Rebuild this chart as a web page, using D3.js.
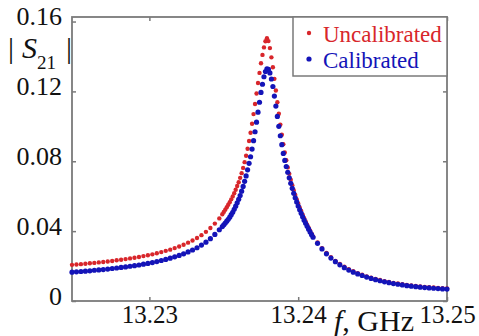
<!DOCTYPE html>
<html>
<head>
<meta charset="utf-8">
<script src="https://cdn.jsdelivr.net/npm/d3@7"></script>
<style>
  body { margin: 0; background: #fff; }
  svg { display: block; }
</style>
</head>
<body>
<div class="chart"></div>
<script>
// resonance curve, |S21| vs frequency
var width = 479;
var height = 336;

var freqs = [
  13.2248, 13.2251, 13.2254, 13.2257, 13.2260, 13.2263, 13.2266, 13.2269, 13.2272, 13.2275,
  13.2278, 13.2281, 13.2284, 13.2287, 13.2290, 13.2293, 13.2296, 13.2299, 13.2302, 13.2305,
  13.2308, 13.2311, 13.2314, 13.2317, 13.2320, 13.2323, 13.2326, 13.2329, 13.2332, 13.2335,
  13.2338, 13.2341, 13.2344, 13.2347,
  13.2349, 13.2350, 13.2351, 13.2352, 13.2353, 13.2354, 13.2355, 13.2356, 13.2357, 13.2358,
  13.2359, 13.2360, 13.2361, 13.2362, 13.2363, 13.2364, 13.2365, 13.2366, 13.2367, 13.2368,
  13.2369, 13.2370, 13.2371, 13.2372, 13.2373, 13.2374, 13.2375, 13.2376, 13.2377, 13.2378,
  13.2379, 13.2380, 13.2381, 13.2382, 13.2383, 13.2384, 13.2385, 13.2386, 13.2387, 13.2388,
  13.2389, 13.2390, 13.2391, 13.2392, 13.2393, 13.2394, 13.2395, 13.2396, 13.2397, 13.2398,
  13.2399, 13.2400, 13.2401, 13.2402, 13.2403, 13.2404, 13.2405, 13.2406, 13.2407, 13.2408,
  13.2409, 13.2410,
  13.2413, 13.2416, 13.2419, 13.2422, 13.2425, 13.2428, 13.2431, 13.2434, 13.2437, 13.2440,
  13.2443, 13.2446, 13.2449, 13.2452, 13.2455, 13.2458, 13.2461, 13.2464, 13.2467, 13.2470,
  13.2473, 13.2476, 13.2479, 13.2482, 13.2485, 13.2488, 13.2491, 13.2494, 13.2497, 13.2500
];

var uncalibrated = [
  0.0207, 0.0209, 0.0211, 0.0213, 0.0216, 0.0218, 0.0221, 0.0223, 0.0226, 0.0229,
  0.0233, 0.0236, 0.0240, 0.0244, 0.0248, 0.0252, 0.0257, 0.0262, 0.0267, 0.0273,
  0.0280, 0.0287, 0.0294, 0.0303, 0.0312, 0.0322, 0.0334, 0.0346, 0.0361, 0.0377,
  0.0396, 0.0418, 0.0443, 0.0473,
  0.0497, 0.0510, 0.0523, 0.0537, 0.0551, 0.0566, 0.0582, 0.0599, 0.0617, 0.0637,
  0.0658, 0.0680, 0.0705, 0.0732, 0.0762, 0.0795, 0.0832, 0.0872, 0.0916, 0.0963,
  0.1015, 0.1070, 0.1128, 0.1188, 0.1248, 0.1306, 0.1361, 0.1409, 0.1452, 0.1487,
  0.1505, 0.1488, 0.1448, 0.1395, 0.1338, 0.1272, 0.1205, 0.1138, 0.1072, 0.1010,
  0.0952, 0.0898, 0.0850, 0.0806, 0.0765, 0.0728, 0.0694, 0.0663, 0.0634, 0.0607,
  0.0582, 0.0558, 0.0536, 0.0515, 0.0494, 0.0474, 0.0455, 0.0437, 0.0419, 0.0402,
  0.0386, 0.0370,
  0.0335, 0.0303, 0.0275, 0.0251, 0.0230, 0.0212, 0.0196, 0.0182, 0.0170, 0.0159,
  0.0150, 0.0141, 0.0133, 0.0126, 0.0120, 0.0114, 0.0109, 0.0104, 0.0100, 0.0096,
  0.0092, 0.0089, 0.0086, 0.0083, 0.0081, 0.0079, 0.0077, 0.0075, 0.0073, 0.0072
];

var calibrated = [
  0.0165, 0.0167, 0.0169, 0.0171, 0.0173, 0.0176, 0.0178, 0.0180, 0.0183, 0.0186,
  0.0189, 0.0192, 0.0195, 0.0199, 0.0202, 0.0206, 0.0211, 0.0215, 0.0220, 0.0226,
  0.0232, 0.0238, 0.0245, 0.0253, 0.0261, 0.0270, 0.0281, 0.0292, 0.0305, 0.0320,
  0.0337, 0.0357, 0.0381, 0.0408,
  0.0426, 0.0436, 0.0446, 0.0457, 0.0468, 0.0480, 0.0494, 0.0508, 0.0525, 0.0543,
  0.0562, 0.0582, 0.0604, 0.0629, 0.0656, 0.0685, 0.0716, 0.0751, 0.0788, 0.0826,
  0.0870, 0.0918, 0.0969, 0.1024, 0.1081, 0.1138, 0.1194, 0.1241, 0.1284, 0.1314,
  0.1329, 0.1326, 0.1306, 0.1271, 0.1228, 0.1173, 0.1116, 0.1057, 0.1000, 0.0946,
  0.0895, 0.0845, 0.0805, 0.0770, 0.0737, 0.0705, 0.0674, 0.0645, 0.0617, 0.0591,
  0.0567, 0.0544, 0.0522, 0.0502, 0.0482, 0.0463, 0.0445, 0.0428, 0.0411, 0.0395,
  0.0380, 0.0365,
  0.0330, 0.0298, 0.0270, 0.0246, 0.0225, 0.0207, 0.0191, 0.0177, 0.0165, 0.0155,
  0.0146, 0.0137, 0.0129, 0.0122, 0.0116, 0.0110, 0.0105, 0.0100, 0.0096, 0.0092,
  0.0088, 0.0085, 0.0082, 0.0079, 0.0077, 0.0075, 0.0073, 0.0071, 0.0069, 0.0068
];

var xTicks = [13.23, 13.24, 13.25];
var yTicks = [0, 0.04, 0.08, 0.12, 0.16];
var seriesNames = ['Uncalibrated', 'Calibrated'];

var red = '#d8262b';
var blue = '#1414b8';
var frameColor = '#7a7a7a';
var ink = '#111';
var serif = '"Liberation Serif", "Times New Roman", "DejaVu Serif", serif';

var plot = {left: 72, right: 447, top: 17, bottom: 301};

var x = d3.scaleLinear().domain([13.2248, 13.25]).range([plot.left, plot.right]);
var y = d3.scaleLinear().domain([0, 0.1626]).range([plot.bottom, plot.top]);

var svg = d3.select('.chart').append('svg')
  .attr('width', width)
  .attr('height', height)
  .attr('font-family', serif)
  .style('font-family', serif);

// ticks on all four sides, pointing inwards
function styleAxis(g) {
  g.attr('font-family', serif);
  g.select('.domain').remove();
  g.selectAll('.tick line').attr('stroke', frameColor).attr('stroke-width', 1.5);
}

svg.append('g')
  .attr('transform', `translate(${plot.left},0)`)
  .call(d3.axisLeft(y).tickValues(yTicks).tickSizeInner(-4).tickSizeOuter(0).tickPadding(10)
    .tickFormat(d => d === 0 ? '0' : d3.format('.2f')(d)))
  .call(styleAxis)
  .call(g => g.selectAll('text')
    .attr('dy', 3)
    .attr('fill', ink)
    .style('font-size', '26px'));

svg.append('g')
  .attr('transform', `translate(${plot.right},0)`)
  .call(d3.axisRight(y).tickValues(yTicks).tickSizeInner(-4).tickSizeOuter(0).tickFormat(''))
  .call(styleAxis);

svg.append('g')
  .attr('transform', `translate(0,${plot.bottom})`)
  .call(d3.axisBottom(x).tickValues(xTicks).tickSizeInner(-4).tickSizeOuter(0)
    .tickFormat(d3.format('.2f')))
  .call(styleAxis)
  .call(g => g.selectAll('text')
    .attr('y', 22)
    .attr('dy', 0)
    .attr('fill', ink)
    .style('font-size', '25px'));

svg.append('g')
  .attr('transform', `translate(0,${plot.top})`)
  .call(d3.axisTop(x).tickValues(xTicks).tickSizeInner(-4).tickSizeOuter(0).tickFormat(''))
  .call(styleAxis);

svg.append('rect')
  .attr('x', plot.left)
  .attr('y', plot.top)
  .attr('width', plot.right - plot.left)
  .attr('height', plot.bottom - plot.top)
  .attr('fill', 'none')
  .attr('stroke', frameColor)
  .attr('stroke-width', 1.8);

// data points
var points = [
  {name: seriesNames[0], values: uncalibrated, color: red, r: 2.2},
  {name: seriesNames[1], values: calibrated, color: blue, r: 2.6}
];

points.forEach(s => {
  svg.append('g')
    .selectAll('circle')
    .data(s.values)
    .enter().append('circle')
    .attr('cx', (d, i) => x(freqs[i]))
    .attr('cy', d => y(d))
    .attr('r', s.r)
    .attr('fill', s.color);
});

// axis titles
var yTitle = svg.append('text')
  .attr('x', 8)
  .attr('y', 58)
  .attr('fill', ink)
  .style('font-size', '30px');
yTitle.append('tspan').text('|');
yTitle.append('tspan').attr('dx', 8).style('font-style', 'italic').text('S');
yTitle.append('tspan').attr('dy', 11).style('font-size', '19px').text('21');
yTitle.append('tspan').attr('dy', -11).attr('dx', 10).text('|');

var xTitle = svg.append('text')
  .attr('x', 334)
  .attr('y', 331)
  .attr('fill', ink)
  .style('font-size', '30px');
xTitle.append('tspan').style('font-style', 'italic').text('f');
xTitle.append('tspan').text(', GHz');

// legend
var legend = svg.append('g');
legend.append('rect')
  .attr('x', 293)
  .attr('y', plot.top)
  .attr('width', plot.right - 293)
  .attr('height', 59)
  .attr('fill', '#fff')
  .attr('stroke', frameColor)
  .attr('stroke-width', 1.5);

var items = legend.selectAll('g.item')
  .data(points)
  .enter().append('g')
  .attr('class', 'item')
  .attr('transform', (d, i) => `translate(309,${33 + i * 26})`);

items.append('circle')
  .attr('r', d => d.r)
  .attr('fill', d => d.color);

items.append('text')
  .attr('x', 14)
  .attr('y', 9)
  .attr('fill', d => d.color)
  .style('font-size', '23px')
  .text(d => d.name);
</script>
</body>
</html>
